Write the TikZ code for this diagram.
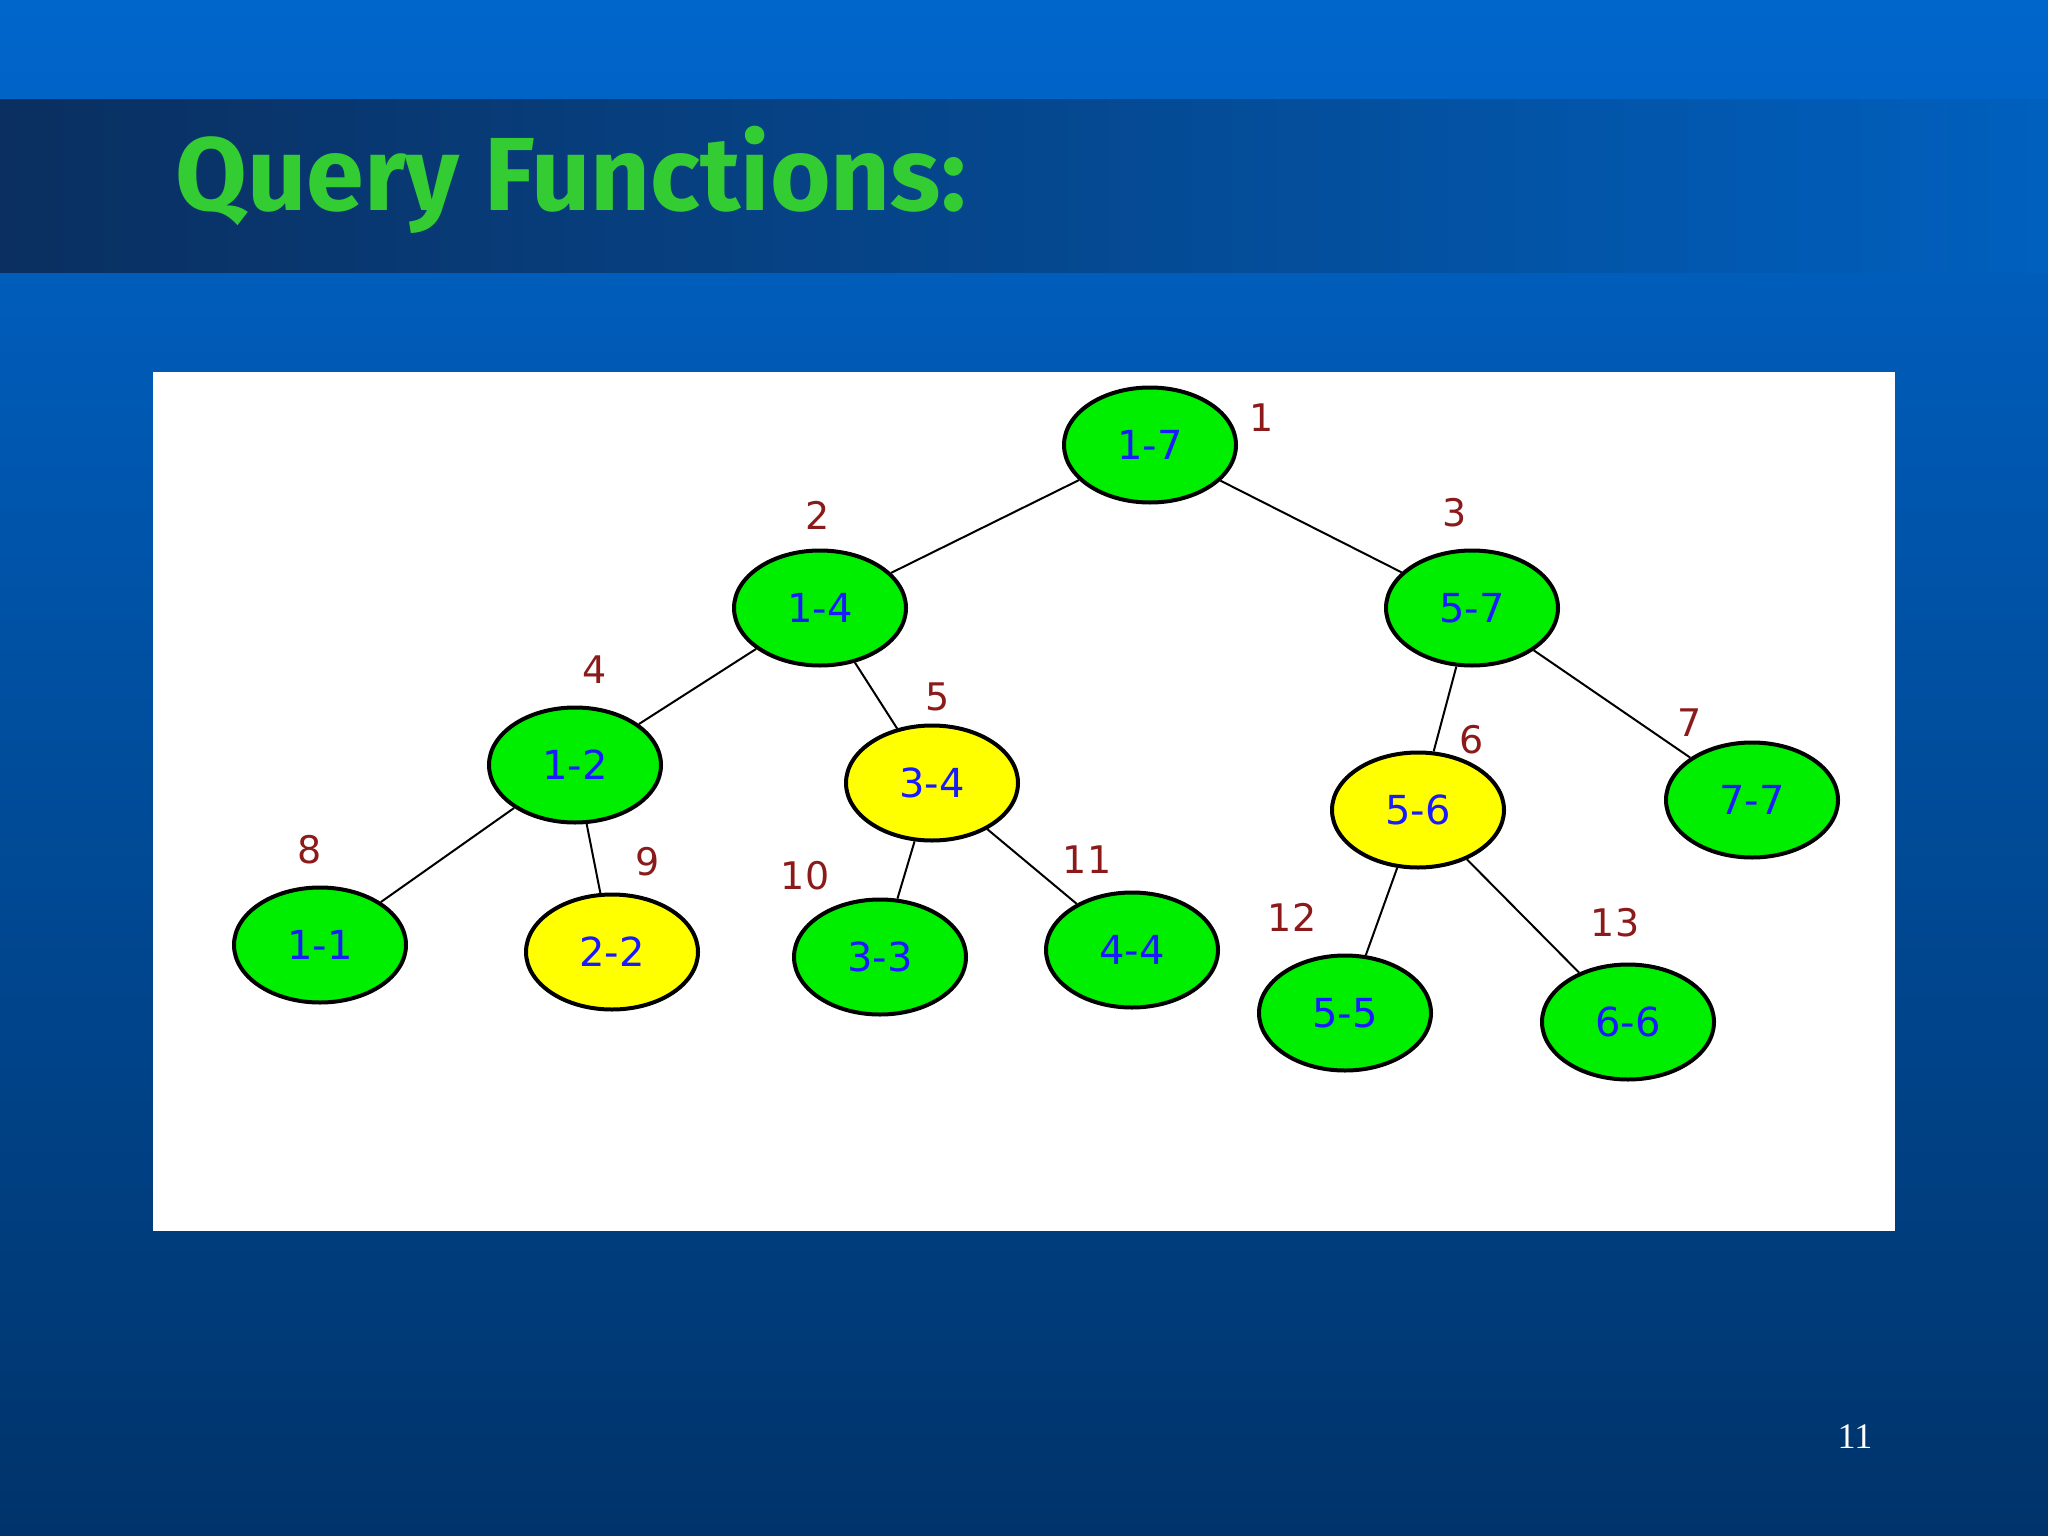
\documentclass[tikz,border=0pt]{standalone}
\usepackage{fontspec}
\setmainfont{DejaVu Sans}
\newfontfamily\titlefont{Fira Sans}
\usetikzlibrary{shapes.geometric}
\definecolor{bgtop}{HTML}{0066CC}
\definecolor{bgbot}{HTML}{00336A}
\definecolor{bandl}{HTML}{0A2F60}
\definecolor{bandr}{HTML}{0060BE}
\definecolor{tgreen}{HTML}{33CC33}
\definecolor{ngreen}{HTML}{00EE00}
\definecolor{nyellow}{HTML}{FFFF00}
\definecolor{lred}{HTML}{8B1A1A}
\definecolor{ntext}{HTML}{1A1AFF}
\tikzset{
 x=1pt,y=-1pt,
 tn/.style={ellipse,draw=black,line width=4,minimum width=172,minimum height=115,inner sep=0,font=\fontsize{40}{40}\selectfont,text=ntext},
 gn/.style={tn,fill=ngreen},
 yn/.style={tn,fill=nyellow},
 lb/.style={font=\fontsize{38}{38}\selectfont,text=lred},
 ed/.style={line width=2}
}
\begin{document}
\begin{tikzpicture}
\useasboundingbox (0,0) rectangle (2048,1536);
\shade[top color=bgtop,bottom color=bgbot] (0,0) rectangle (2048,1536);
\shade[left color=bandl,right color=bandr] (0,100) rectangle (2048,272);
\node[anchor=west,text=tgreen,font=\titlefont\bfseries\fontsize{104}{104}\selectfont] (title) at (172,180) {Query Functions:};
\fill[white] (153,372) rectangle (1895,1231);
\node[text=white,font=\rmfamily\fontsize{36}{36}\selectfont] (pg) at (1855,1437) {\fontspec{Liberation Serif}11};
\node[gn] (n1) at (1150,445) {1-7};
\node[gn] (n2) at (820,608) {1-4};
\node[gn] (n3) at (1472,608) {5-7};
\node[gn] (n4) at (575,765) {1-2};
\node[yn] (n5) at (932,783) {3-4};
\node[yn] (n6) at (1418,810) {5-6};
\node[gn] (n7) at (1752,800) {7-7};
\node[gn] (n8) at (320,945) {1-1};
\node[yn] (n9) at (612,952) {2-2};
\node[gn] (n10) at (880,957) {3-3};
\node[gn] (n11) at (1132,950) {4-4};
\node[gn] (n12) at (1345,1013) {5-5};
\node[gn] (n13) at (1628,1022) {6-6};
\foreach \a/\b in {1/2,1/3,2/4,2/5,3/6,3/7,4/8,4/9,5/10,5/11,6/12,6/13}
  \draw[ed] (n\a) -- (n\b);
\node[lb] (l1) at (1262,418) {1};
\node[lb] (l2) at (818,515) {2};
\node[lb] (l3) at (1455,513) {3};
\node[lb] (l4) at (595,670) {4};
\node[lb] (l5) at (938,697) {5};
\node[lb] (l6) at (1472,740) {6};
\node[lb] (l7) at (1690,723) {7};
\node[lb] (l8) at (310,850) {8};
\node[lb] (l9) at (648,862) {9};
\node[lb] (l10) at (805,876) {10};
\node[lb] (l11) at (1087,860) {11};
\node[lb] (l12) at (1292,917) {12};
\node[lb] (l13) at (1615,923) {13};
\end{tikzpicture}
\end{document}
